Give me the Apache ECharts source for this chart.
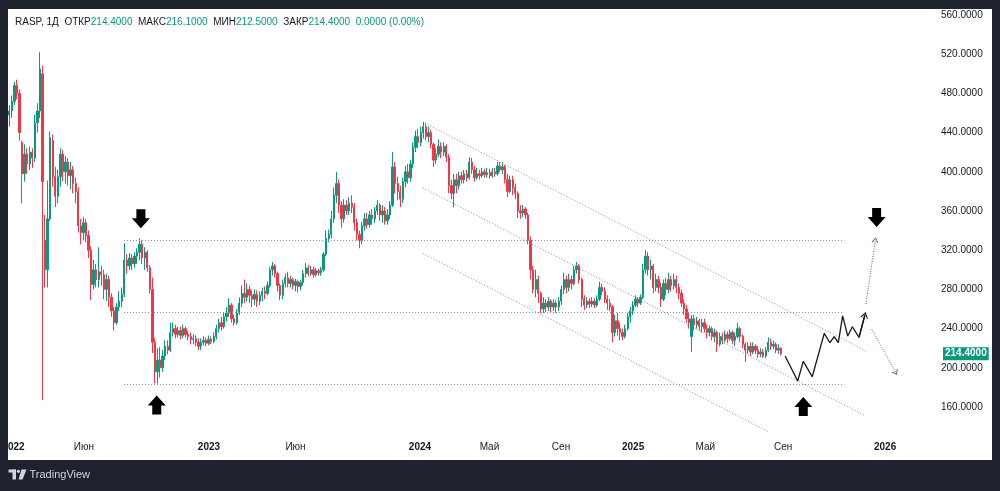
<!DOCTYPE html>
<html><head><meta charset="utf-8">
<script src="https://cdn.jsdelivr.net/npm/echarts@6/dist/echarts.min.js"></script>
<style>html,body{margin:0;padding:0;background:#1e222d;}#c{width:1000px;height:491px;}</style>
</head><body><div id="c"></div>
<script>
// Each bar = ~3 trading days. [open, close, low, high]
const candles = [
[458,462,446,468],[462,472,455,478],[472,488,468,492],[488,480,474,494],[480,440,432,484],
[430,398,368,432],[398,418,390,428],[418,408,398,424],[408,420,402,426],[420,414,404,424],
[414,450,410,458],[450,462,440,470],[462,505,455,522],[500,390,167,508],[330,300,282,356],
[300,352,282,391],[352,435,350,441],[432,395,385,438],[395,375,364,405],[375,395,368,402],
[395,418,385,424],[418,400,390,422],[400,410,388,416],[410,396,386,414],[396,402,382,410],
[402,388,378,406],[388,380,368,394],[380,345,338,384],[345,338,326,352],[338,348,330,354],
[348,335,328,352],[335,320,312,340],[320,285,269,324],[285,300,280,310],[300,290,282,306],
[290,298,282,323],[298,295,284,304],[295,280,270,300],[280,290,268,296],[290,272,262,294],
[272,258,252,276],[258,246,238,262],[246,262,244,266],[262,268,258,278],[268,275,262,282],
[275,310,272,327],[310,304,296,316],[304,312,300,317],[312,306,300,316],[306,314,302,318],
[314,318,306,322],[318,326,310,332],[326,312,306,330],[312,318,300,323],[318,302,298,320],
[302,280,276,305],[280,226,215,292],[226,196,184,230],[196,208,184,220],[208,200,190,221],
[200,212,196,218],[212,222,208,228],[222,218,214,228],[218,236,216,246],[236,240,232,246],
[240,234,230,244],[234,238,231,242],[238,233,229,242],[233,240,230,244],[240,234,231,242],
[234,232,228,238],[232,229,224,236],[229,230,224,234],[230,226,222,233],[226,222,218,230],
[222,226,218,230],[226,228,223,232],[228,225,222,231],[225,229,223,233],[229,227,224,232],
[227,232,225,236],[232,240,229,244],[240,246,236,250],[246,242,238,252],[242,252,240,257],
[252,256,247,262],[256,264,252,271],[264,250,246,266],[250,246,243,254],[246,256,244,260],
[256,266,254,272],[266,276,262,284],[276,272,266,290],[272,280,268,286],[280,274,266,284],
[274,270,262,279],[270,275,264,280],[275,268,262,279],[268,274,264,278],[274,278,268,282],
[278,276,270,283],[276,284,274,288],[284,300,282,303],[300,304,294,308],[304,296,292,306],
[296,284,278,298],[284,274,269,286],[274,286,270,290],[286,292,282,296],[292,286,282,298],
[286,290,282,294],[290,284,280,292],[284,288,278,291],[288,283,277,290],[283,287,279,290],
[287,296,284,300],[296,302,292,307],[302,296,293,305],[296,300,294,304],[300,295,292,303],
[295,299,293,302],[299,297,294,301],[297,300,294,303],[300,316,298,318],[316,332,314,340],
[332,336,328,341],[336,352,332,360],[352,376,348,384],[376,388,368,400],[388,366,358,392],
[366,352,343,370],[352,366,348,372],[366,360,356,371],[360,368,356,374],[368,364,358,376],
[364,348,340,368],[348,336,330,352],[336,330,322,340],[330,345,326,349],[345,352,340,358],
[352,346,342,358],[346,356,343,360],[356,352,346,362],[352,360,348,364],[360,366,356,371],
[366,356,350,368],[356,360,348,366],[360,350,346,364],[350,356,346,362],[356,366,352,370],
[366,405,364,420],[405,388,378,410],[388,380,371,395],[380,372,364,386],[372,390,368,394],
[390,400,384,406],[400,394,388,408],[394,408,390,412],[408,425,404,430],[425,436,420,442],
[436,430,424,444],[430,440,426,446],[440,446,434,451],[446,436,432,450],[436,440,430,446],
[440,428,424,443],[428,412,405,430],[412,418,408,424],[418,426,415,433],[426,420,414,430],
[420,426,416,430],[426,415,410,428],[415,386,378,418],[386,378,372,392],[378,392,364,398],
[392,386,378,398],[386,396,382,400],[396,392,388,400],[392,398,388,402],[398,394,390,402],
[394,410,392,415],[410,402,398,414],[402,394,390,406],[394,398,392,404],[398,396,392,402],
[396,400,394,404],[400,397,394,403],[397,399,394,404],[399,396,393,403],[396,400,394,404],
[400,398,395,404],[398,406,396,410],[406,402,400,410],[402,405,398,410],[405,392,388,407],
[392,380,374,398],[380,392,378,396],[392,384,376,396],[384,378,372,388],[378,360,353,380],
[360,358,352,366],[358,362,354,366],[362,356,352,364],[356,330,326,358],[330,300,290,334],
[300,280,276,304],[280,290,272,300],[290,276,266,294],[276,260,256,278],[260,266,256,272],
[266,262,257,270],[262,268,258,272],[268,262,256,270],[262,266,258,270],[266,262,256,269],
[262,268,258,272],[268,280,264,284],[280,290,275,297],[290,282,276,294],[282,290,278,296],
[290,286,280,294],[286,300,284,304],[300,304,296,308],[304,290,286,306],[290,270,262,292],
[270,264,259,274],[264,268,261,272],[268,265,261,271],[265,268,262,272],[268,264,261,271],
[264,270,262,274],[270,282,268,288],[282,278,274,286],[278,270,266,282],[270,266,259,274],
[266,262,258,270],[262,236,226,264],[236,248,232,254],[248,240,233,256],[240,236,228,246],
[236,232,228,240],[232,240,230,244],[240,252,238,256],[252,258,246,262],[258,264,254,268],
[264,270,262,274],[270,266,262,272],[266,272,264,275],[272,300,270,306],[300,314,296,320],
[314,300,294,318],[300,304,290,310],[304,282,276,306],[282,290,278,296],[290,282,276,294],
[282,270,262,287],[270,286,268,290],[286,280,274,292],[280,290,276,297],[290,284,278,294],
[284,290,280,296],[290,282,276,294],[282,276,270,286],[276,266,262,280],[266,260,254,270],
[260,250,246,264],[250,246,240,256],[232,250,216,254],[250,244,238,254],[244,248,240,252],
[248,242,238,250],[242,246,236,250],[246,240,236,250],[240,236,230,244],[236,240,232,243],
[240,232,228,242],[232,236,226,240],[236,224,216,238],[224,232,222,236],[232,228,224,236],
[228,234,226,238],[234,230,225,237],[230,236,228,239],[236,228,224,238],[228,232,222,236],
[232,240,230,246],[240,232,226,242],[232,224,220,234],[224,218,206,226],[218,222,214,226],
[222,216,212,226],[216,222,214,226],[222,218,214,224],[218,214,210,222],[214,216,211,220],
[216,212,210,219],[212,218,210,221],[218,226,216,231],[226,222,218,230],[222,224,219,228],
[224,218,215,226],[218,220,214,224],[220,214.4,212.5,221]
];
const xTickPos  = [2.15, 29.7, 78.65, 112.5, 161.2, 188.4, 216.4, 244.6, 272.9, 303.3, 343.2];
const xTickText = ['2022','Июн','2023','Июн','2024','Май','Сен','2025','Май','Сен','2026'];
const xTickYear = [true,false,true,false,true,false,false,true,false,false,true];
const yTicks = [160,200,240,280,320,360,400,440,480,520,560];

const legendLabels = ['ОТКР','МАКС','МИН','ЗАКР'];
const legendValues = [214.4, 216.1, 212.5, 214.4];
const lastPrice = 214.4;

// annotations (bar-index, price)
const levels = [330.4, 256.9, 183.3];
const levelSpan = [45.4, 327.2];
const channelStart = [[163.2, 449.5], [162.3, 383.8], [162.3, 316.8]];
const channelEnd   = [[335.6, 217.4], [335.6, 150.8], [297.2, 135.2]];
const forecast = [[304.1,212.0],[309.0,186.5],[311.2,206.6],[314.7,190.9],[319.4,235.2],[321.6,225.6],
  [323.3,231.7],[324.9,225.6],[326.6,252.9],[328.6,232.4],[330.4,241.9],[333.0,231.1],[335.3,253.9]];
const dottedArrows = [[[335.7,265.1],[339.4,330.4]], [[338.0,239.3],[347.4,195.0]]];
const downMarks = [[52.0, 352.0], [339.9, 353.4]];
const upMarks = [[58.2, 162.0], [311.2, 160.5]];

const F = "'Liberation Sans', Arial, sans-serif";
const UP = '#089981', DOWN = '#f23645', TXT = '#131722', BG = '#1e222d';
const chevron = 'path://M0,10L5,0L10,10L8.4,10L5,3.2L1.6,10Z';
const downPath = 'path://M4.5,0L13.5,0L13.5,9L18,9L9,19L0,9L4.5,9Z';
const upPath = 'path://M9,0L18,10L13.5,10L13.5,19L4.5,19L4.5,10L0,10Z';

const fmt = v => v.toFixed(4);
let header = '{n|RASP, 1Д}  ';
legendLabels.forEach((l, i) => { header += '{n|' + l + '}{g|' + fmt(legendValues[i]) + '}  '; });
header += '{g|0.0000 (0.00%)}';

const markData = [];
levels.forEach(v => markData.push([
  {coord: [levelSpan[0], v], symbol: 'none', lineStyle: {color: '#8f929b', width: 1, type: [1, 2]}},
  {coord: [levelSpan[1], v], symbol: 'none'}]));
channelStart.forEach((s, i) => markData.push([
  {coord: s, symbol: 'none', lineStyle: {color: '#868993', width: 1, type: [1, 2]}},
  {coord: channelEnd[i], symbol: 'none'}]));
dottedArrows.forEach(a => markData.push([
  {coord: a[0], symbol: 'none', lineStyle: {color: '#5d606b', width: 1, type: [1, 1.5]}},
  {coord: a[1], symbol: chevron, symbolSize: [7, 5]}]));
const n = forecast.length;
markData.push([
  {coord: forecast[n - 2], symbol: 'none', lineStyle: {color: TXT, width: 1.3, type: 'solid'}},
  {coord: forecast[n - 1], symbol: chevron, symbolSize: [8, 6]}]);

const chart = echarts.init(document.getElementById('c'), null, {renderer: 'canvas'});
chart.setOption({
  animation: false,
  backgroundColor: BG,
  title: {
    left: 15, top: 16, padding: 0, text: header,
    textStyle: {fontSize: 10, fontFamily: F, color: TXT, fontWeight: 'normal', lineHeight: 12,
      rich: {n: {color: TXT, fontSize: 10, fontFamily: F}, g: {color: UP, fontSize: 10, fontFamily: F}}}
  },
  grid: {left: 8, right: 72, top: 8, bottom: 59, containLabel: false, outerBoundsMode: 'none'},
  xAxis: {
    type: 'value', min: 0, max: 360,
    axisLine: {show: false}, axisTick: {show: false}, splitLine: {show: false},
    axisLabel: {
      customValues: xTickPos, margin: 10, fontSize: 10, fontFamily: F, color: TXT,
      formatter: (v) => {
        const i = xTickPos.findIndex(p => Math.abs(p - v) < 1e-6);
        if (i < 0) return '';
        return xTickYear[i] ? '{y|' + xTickText[i] + '}' : '{m|' + xTickText[i] + '}';
      },
      rich: {y: {fontWeight: 'bold', fontSize: 10, fontFamily: F, color: TXT},
             m: {fontSize: 10, fontFamily: F, color: TXT}}
    }
  },
  yAxis: {
    type: 'value', position: 'right', min: 134.49, max: 567.14,
    axisLine: {show: false}, axisTick: {show: false}, splitLine: {show: false},
    axisLabel: {customValues: yTicks, formatter: v => fmt(v), margin: 13, fontSize: 10, fontFamily: F, color: TXT}
  },
  graphic: [
    {type: 'rect', z: -10, silent: true, shape: {x: 8, y: 9, width: 984, height: 451}, style: {fill: '#ffffff'}},
    {type: 'rect', z: 100, silent: true, shape: {x: 0, y: 430, width: 8, height: 40}, style: {fill: BG}},
    {type: 'rect', z: 100, silent: true, shape: {x: 8.5, y: 469.5, width: 7.5, height: 3}, style: {fill: '#d1d4dc'}},
    {type: 'rect', z: 100, silent: true, shape: {x: 12.5, y: 469.5, width: 3.5, height: 10}, style: {fill: '#d1d4dc'}},
    {type: 'circle', z: 100, silent: true, shape: {cx: 18.4, cy: 471.3, r: 1.6}, style: {fill: '#d1d4dc'}},
    {type: 'polygon', z: 100, silent: true, shape: {points: [[21.5,469.5],[26.5,469.5],[22.5,479.5],[18.5,479.5]]}, style: {fill: '#d1d4dc'}},
    {type: 'text', z: 100, silent: true, x: 29.5, y: 474.5,
      style: {text: 'TradingView', fill: '#d1d4dc', font: '11px ' + F, verticalAlign: 'middle'}}
  ],
  series: [
    {
      type: 'candlestick',
      data: candles.map((d, i) => [i + 0.5, d[0], d[1], d[2], d[3]]),
      barWidth: 1.8,
      itemStyle: {color: UP, color0: DOWN, borderColor: UP, borderColor0: DOWN, borderWidth: 1},
      markLine: {
        silent: true, symbol: 'none', animation: false,
        lineStyle: {color: 'transparent', width: 0},
        label: {show: true, position: 'end', distance: 15, formatter: fmt(lastPrice),
          color: '#ffffff', backgroundColor: UP, padding: [2, 2, 1, 2], fontSize: 10,
          fontWeight: 'bold', fontFamily: F},
        data: [{yAxis: lastPrice}]
      }
    },
    {
      type: 'line',
      data: forecast,
      showSymbol: false, symbol: 'none',
      lineStyle: {color: TXT, width: 1.3},
      markLine: {silent: true, animation: false, label: {show: false}, data: markData}
    },
    {type: 'scatter', data: downMarks, symbol: downPath, symbolSize: [18, 19], itemStyle: {color: '#000', opacity: 1}, silent: true},
    {type: 'scatter', data: upMarks, symbol: upPath, symbolSize: [18, 19], itemStyle: {color: '#000', opacity: 1}, silent: true}
  ]
});
</script></body></html>
